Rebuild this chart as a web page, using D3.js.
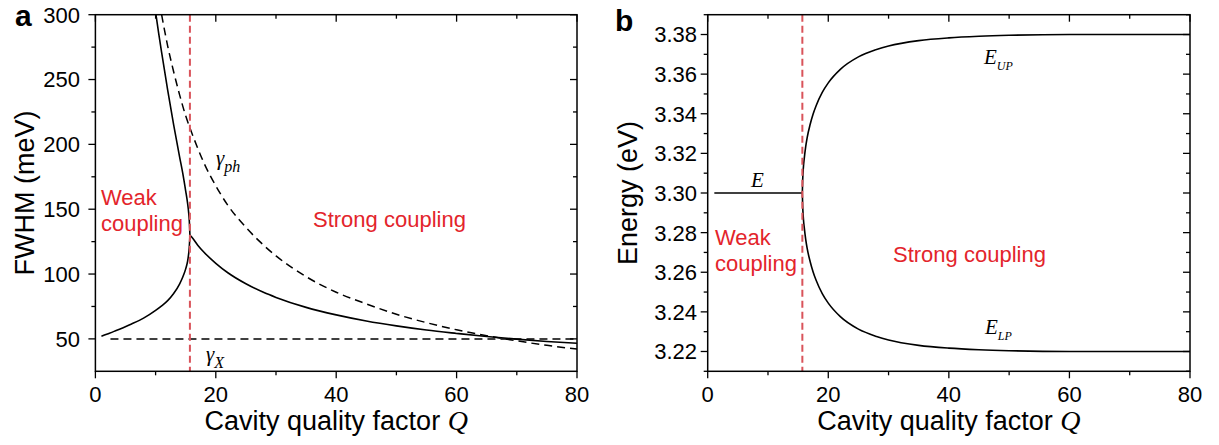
<!DOCTYPE html>
<html>
<head>
<meta charset="utf-8">
<script src="https://cdn.jsdelivr.net/npm/d3@7"></script>
<style>
  html, body { margin: 0; padding: 0; background: #fff; }
  svg { display: block; }
  text { font-family: "Liberation Sans", Arial, sans-serif; }
  .it { font-family: "Liberation Serif", "Times New Roman", serif; font-style: italic; }
</style>
</head>
<body>
<script>
// ---------- Panel a data: FWHM (meV) vs cavity Q ----------
const qPh      = [11, 12, 13, 14, 15, 16, 17, 18, 20, 22, 25, 28, 30, 35, 40, 45, 50, 55, 60, 65, 70, 75, 80];
const gammaPh  = [300, 276, 256, 238, 222, 209, 197, 186, 168, 153, 136, 122, 114, 98, 86, 77, 69, 62.5, 57, 52.5, 48.5, 45, 42.2];

const qX       = [2.5, 80];
const gammaX   = [50, 50];

const qStrong  = [15.7, 16, 17, 18, 20, 22, 25, 28, 30, 35, 40, 45, 50, 55, 60, 65, 70, 75, 80];
const fwhmStrong = [130, 128.5, 122.3, 117, 108.3, 101, 92.5, 85.7, 82, 74.3, 68.5, 63.8, 60, 56.8, 54.2, 51.8, 49.8, 48, 46.6];

const qWeakUp  = [10, 10.5, 11, 12, 13, 14, 14.5, 15, 15.3, 15.5, 15.6, 15.7];
const fwhmWeakUp = [302, 286, 271, 242, 215, 190, 178, 164, 155, 147, 141, 130];

const qWeakLo  = [1, 2, 3, 4, 6, 8, 10, 11, 12, 13, 14, 14.5, 15, 15.3, 15.5, 15.6, 15.7];
const fwhmWeakLo = [52, 53.8, 55.6, 57.5, 61.5, 66, 72, 75.5, 79.5, 85, 92.5, 97.5, 104, 109.5, 116, 121, 130];

const qCritical = 15.7;

// ---------- Panel b data: Energy (eV) vs cavity Q ----------
const qE  = [1.1, 15.7];
const eX  = [3.30, 3.30];

const qPol = [15.7, 15.75, 15.8, 15.9, 16, 16.25, 16.5, 17, 17.5, 18, 19, 20, 22, 25, 28, 30, 35, 40, 45, 50, 60, 70, 80];
const eUP  = [3.300, 3.306, 3.3095, 3.314, 3.317, 3.3233, 3.328, 3.3347, 3.340, 3.3442, 3.3508, 3.3556, 3.3624, 3.3687, 3.3724, 3.3742, 3.3769, 3.3783, 3.3791, 3.3796, 3.3800, 3.3800, 3.3800];
const eLP  = [3.300, 3.294, 3.2905, 3.286, 3.283, 3.2767, 3.272, 3.2653, 3.260, 3.2558, 3.2492, 3.2444, 3.2376, 3.2313, 3.2276, 3.2258, 3.2231, 3.2217, 3.2209, 3.2204, 3.2200, 3.2200, 3.2200];

// ---------- Ticks ----------
const xMajor = [0, 20, 40, 60, 80];
const xMinor = [10, 30, 50, 70];
const yMajorA = [50, 100, 150, 200, 250, 300];
const yMinorA = [75, 125, 175, 225, 275];
const yMajorB = [3.22, 3.24, 3.26, 3.28, 3.30, 3.32, 3.34, 3.36, 3.38];
const yMinorB = [3.21, 3.23, 3.25, 3.27, 3.29, 3.31, 3.33, 3.35, 3.37, 3.39];

const W = 1219, H = 445;
const svg = d3.select("body").append("svg").attr("width", W).attr("height", H);

const RED = "#e3242b";
const RED_DASH = "#d9535a";

function zip(xs, ys) { return xs.map((x, i) => [x, ys[i]]); }

function frame(g, x, y, yMaj, yMin, yFmt, labelRight) {
  const [x0, x1] = x.range();
  const [y0, y1] = y.range();
  const majLen = 7, minLen = 4;
  g.append("rect").attr("x", x0).attr("y", y1).attr("width", x1 - x0).attr("height", y0 - y1)
    .attr("fill", "none").attr("stroke", "#000").attr("stroke-width", 1.5);
  const xt = xMajor.map(v => [v, majLen]).concat(xMinor.map(v => [v, minLen]));
  xt.forEach(([v, L]) => {
    const px = x(v);
    g.append("line").attr("x1", px).attr("x2", px).attr("y1", y0).attr("y2", y0 + L).attr("stroke", "#000").attr("stroke-width", 1.3);
    g.append("line").attr("x1", px).attr("x2", px).attr("y1", y1).attr("y2", y1 + L).attr("stroke", "#000").attr("stroke-width", 1.3);
  });
  const yt = yMaj.map(v => [v, majLen]).concat(yMin.map(v => [v, minLen]));
  yt.forEach(([v, L]) => {
    const py = y(v);
    g.append("line").attr("x1", x0 - L).attr("x2", x0).attr("y1", py).attr("y2", py).attr("stroke", "#000").attr("stroke-width", 1.3);
    g.append("line").attr("x1", x1 - L).attr("x2", x1).attr("y1", py).attr("y2", py).attr("stroke", "#000").attr("stroke-width", 1.3);
  });
  xMajor.forEach(v => {
    g.append("text").attr("x", x(v)).attr("y", y0 + 31).attr("text-anchor", "middle")
      .attr("font-size", 22).text(v);
  });
  yMaj.forEach(v => {
    g.append("text").attr("x", labelRight).attr("y", y(v)).attr("dy", "0.36em").attr("text-anchor", "end")
      .attr("font-size", 22).text(yFmt(v));
  });
  const t = g.append("text").attr("x", (x0 + x1) / 2).attr("y", 430).attr("text-anchor", "middle").attr("font-size", 27);
  t.append("tspan").text("Cavity quality factor ");
  t.append("tspan").attr("class", "it").attr("font-size", 28).text("Q");
}

// ================= Panel a =================
const xa = d3.scaleLinear().domain([0, 80]).range([95.4, 577]);
const ya = d3.scaleLinear().domain([25, 300]).range([371.3, 14.7]);
const ga = svg.append("g");

const clipA = svg.append("clipPath").attr("id", "clipA");
clipA.append("rect").attr("x", 95.4).attr("y", 14.7).attr("width", 577 - 95.4).attr("height", 371.3 - 14.7);

const lineA = d3.line().x(d => xa(d[0])).y(d => ya(d[1])).curve(d3.curveMonotoneX);
const lineAv = d3.line().x(d => xa(d[0])).y(d => ya(d[1])).curve(d3.curveLinear);
const pa = ga.append("g").attr("clip-path", "url(#clipA)");

pa.append("path").attr("d", lineA(zip(qPh, gammaPh))).attr("fill", "none").attr("stroke", "#000")
  .attr("stroke-width", 1.5).attr("stroke-dasharray", "8,5");
pa.append("path").attr("d", lineAv(zip(qX, gammaX))).attr("fill", "none").attr("stroke", "#000")
  .attr("stroke-width", 1.5).attr("stroke-dasharray", "8,5");
pa.append("path").attr("d", lineA(zip(qStrong, fwhmStrong))).attr("fill", "none").attr("stroke", "#000").attr("stroke-width", 1.6);
pa.append("path").attr("d", lineA(zip(qWeakUp, fwhmWeakUp))).attr("fill", "none").attr("stroke", "#000").attr("stroke-width", 1.6);
pa.append("path").attr("d", lineA(zip(qWeakLo, fwhmWeakLo))).attr("fill", "none").attr("stroke", "#000").attr("stroke-width", 1.6);

ga.append("line").attr("x1", xa(qCritical)).attr("x2", xa(qCritical)).attr("y1", ya(300)).attr("y2", ya(25))
  .attr("stroke", RED_DASH).attr("stroke-width", 2).attr("stroke-dasharray", "7,4");

frame(ga, xa, ya, yMajorA, yMinorA, d => d, 80);

ga.append("text").attr("transform", "translate(34,193) rotate(-90)").attr("text-anchor", "middle")
  .attr("font-size", 27).text("FWHM (meV)");

const gph = ga.append("text").attr("class", "it").attr("x", 216).attr("y", 165).attr("font-size", 21);
gph.append("tspan").text("γ");
gph.append("tspan").attr("dy", 7).attr("font-size", 16).text("ph");
const gx = ga.append("text").attr("class", "it").attr("x", 206).attr("y", 361).attr("font-size", 21);
gx.append("tspan").text("γ");
gx.append("tspan").attr("dy", 7).attr("font-size", 16).text("X");

ga.append("text").attr("x", 101).attr("y", 205).attr("font-size", 22).attr("fill", RED).text("Weak");
ga.append("text").attr("x", 101).attr("y", 231).attr("font-size", 22).attr("fill", RED).text("coupling");
ga.append("text").attr("x", 313).attr("y", 227).attr("font-size", 22).attr("fill", RED).text("Strong coupling");

svg.append("text").attr("x", 15).attr("y", 26).attr("font-size", 30).attr("font-weight", "bold").text("a");

// ================= Panel b =================
const xb = d3.scaleLinear().domain([0, 80]).range([707.7, 1190]);
const yb = d3.scaleLinear().domain([3.21, 3.39]).range([371.3, 14.7]);
const gb = svg.append("g");

const lineB = d3.line().x(d => xb(d[0])).y(d => yb(d[1])).curve(d3.curveMonotoneX);
gb.append("path").attr("d", lineB(zip(qE, eX))).attr("fill", "none").attr("stroke", "#000").attr("stroke-width", 1.5);
gb.append("path").attr("d", lineB(zip(qPol, eUP))).attr("fill", "none").attr("stroke", "#000").attr("stroke-width", 1.6);
gb.append("path").attr("d", lineB(zip(qPol, eLP))).attr("fill", "none").attr("stroke", "#000").attr("stroke-width", 1.6);

gb.append("line").attr("x1", xb(qCritical)).attr("x2", xb(qCritical)).attr("y1", yb(3.39)).attr("y2", yb(3.21))
  .attr("stroke", RED_DASH).attr("stroke-width", 2).attr("stroke-dasharray", "7,4");

frame(gb, xb, yb, yMajorB, yMinorB, d => d3.format(".2f")(d), 697);

gb.append("text").attr("transform", "translate(637,193) rotate(-90)").attr("text-anchor", "middle")
  .attr("font-size", 27).text("Energy (eV)");

gb.append("text").attr("class", "it").attr("x", 751).attr("y", 187).attr("font-size", 21).text("E");
const eu = gb.append("text").attr("class", "it").attr("x", 984).attr("y", 64).attr("font-size", 21);
eu.append("tspan").text("E");
eu.append("tspan").attr("dy", 6).attr("font-size", 12).text("UP");
const el = gb.append("text").attr("class", "it").attr("x", 985).attr("y", 334).attr("font-size", 21);
el.append("tspan").text("E");
el.append("tspan").attr("dy", 6).attr("font-size", 12).text("LP");

gb.append("text").attr("x", 715).attr("y", 245).attr("font-size", 22).attr("fill", RED).text("Weak");
gb.append("text").attr("x", 715).attr("y", 271).attr("font-size", 22).attr("fill", RED).text("coupling");
gb.append("text").attr("x", 893).attr("y", 262).attr("font-size", 22).attr("fill", RED).text("Strong coupling");

svg.append("text").attr("x", 615).attr("y", 31).attr("font-size", 30).attr("font-weight", "bold").text("b");
</script>
</body>
</html>
